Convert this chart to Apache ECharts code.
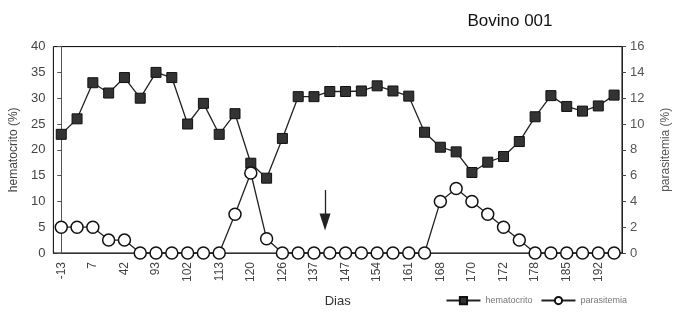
<!DOCTYPE html>
<html>
<head>
<meta charset="utf-8">
<script src="https://cdn.jsdelivr.net/npm/echarts@6/dist/echarts.min.js"></script>
<style>
  html, body { margin: 0; padding: 0; background: #fff; }
  #chart { width: 680px; height: 314px; }
</style>
</head>
<body>
<div id="chart"></div>
<script>
// x labels shown on every other point
let dias = ['-13', '', '7', '', '42', '', '93', '', '102', '', '113', '', '120', '', '126', '', '137', '',
  '147', '', '154', '', '161', '', '168', '', '170', '', '172', '', '178', '', '185', '', '192', ''];

let hematocrito = [23, 26, 33, 31, 34, 30, 35, 34, 25, 29, 23, 27, 17.4, 14.5, 22.2, 30.3, 30.3, 31.3,
  31.3, 31.4, 32.4, 31.4, 30.4, 23.4, 20.5, 19.6, 15.6, 17.6, 18.7, 21.6, 26.4, 30.5, 28.4, 27.5, 28.5, 30.6];

let parasitemia = [2, 2, 2, 1, 1, 0, 0, 0, 0, 0, 0, 3, 6.2, 1.1, 0, 0, 0, 0,
  0, 0, 0, 0, 0, 0, 4, 5, 4, 3, 2, 1, 0, 0, 0, 0, 0, 0];

// arrow marker (treatment): point index on x, from / to on hematocrito scale
let arrowX = 16.7;
let arrowFrom = 12.2;
let arrowTo = 6;

let labelColor = '#444';

let chart = echarts.init(document.getElementById('chart'));
let option = {
  animation: false,
  title: {
    text: 'Bovino 001',
    left: 505,
    top: 8,
    textAlign: 'center',
    textStyle: {fontFamily: 'Liberation Sans', fontSize: 17, fontWeight: 'normal', color: '#111'}
  },
  legend: {
    right: 48,
    top: 291,
    itemWidth: 34,
    itemHeight: 9,
    itemGap: 8,
    textStyle: {fontFamily: 'Liberation Sans', fontSize: 9, color: '#777'},
    data: ['hematocrito', 'parasitemia']
  },
  grid: {
    left: 53, right: 58, top: 46.6, bottom: 61,
    show: true, borderColor: '#000', borderWidth: 1
  },
  xAxis: [
    {
      type: 'category',
      data: dias,
      boundaryGap: true,
      name: 'Dias',
      nameLocation: 'middle',
      nameGap: 42,
      nameTextStyle: {fontFamily: 'Liberation Sans', fontSize: 13, color: '#333'},
      axisLine: {lineStyle: {color: '#333'}},
      axisTick: {interval: 0, length: 4, lineStyle: {color: '#333'}},
      axisLabel: {
        interval: 0, rotate: 90, margin: 9,
        fontFamily: 'Liberation Sans', fontSize: 12, color: labelColor
      }
    },
    {
      // hidden helper axis so the arrow can sit between two days
      type: 'value',
      min: -0.5, max: dias.length - 0.5,
      show: false
    }
  ],
  yAxis: [
    {
      type: 'value',
      min: 0, max: 40, interval: 5,
      name: 'hematocrito (%)',
      nameLocation: 'middle',
      nameRotate: 90,
      nameGap: 30,
      nameTextStyle: {fontFamily: 'Liberation Sans', fontSize: 12, color: '#444'},
      splitLine: {show: false},
      axisLine: {show: true, lineStyle: {color: '#555'}},
      axisTick: {show: true, length: 4, lineStyle: {color: '#555'}},
      axisLabel: {margin: 8, fontFamily: 'Liberation Sans', fontSize: 13, color: labelColor}
    },
    {
      type: 'value',
      min: 0, max: 16, interval: 2,
      name: 'parasitemia (%)',
      nameLocation: 'middle',
      nameRotate: 90,
      nameGap: 38,
      nameTextStyle: {fontFamily: 'Liberation Sans', fontSize: 12, color: '#555'},
      splitLine: {show: false},
      axisLine: {show: true, lineStyle: {color: '#222'}},
      axisTick: {show: true, length: 4, lineStyle: {color: '#444'}},
      axisLabel: {margin: 8, fontFamily: 'Liberation Sans', fontSize: 13, color: '#555'}
    }
  ],
  series: [
    {
      name: 'hematocrito',
      type: 'line',
      yAxisIndex: 0,
      data: hematocrito,
      symbol: 'rect',
      symbolSize: 10,
      itemStyle: {color: '#333', borderColor: '#111', borderWidth: 1},
      lineStyle: {color: '#222', width: 1.3},
      z: 3
    },
    {
      name: 'parasitemia',
      type: 'line',
      yAxisIndex: 1,
      data: parasitemia,
      symbol: 'circle',
      symbolSize: 12,
      showAllSymbol: true,
      itemStyle: {color: '#fff', borderColor: '#111', borderWidth: 1.5},
      lineStyle: {color: '#222', width: 1.3},
      z: 4
    },
    {
      name: 'arrow',
      type: 'line',
      xAxisIndex: 1,
      yAxisIndex: 0,
      data: [],
      markLine: {
        silent: true,
        symbol: ['none', 'triangle'],
        symbolSize: [11, 17],
        label: {show: false},
        lineStyle: {color: '#222', width: 1.3, type: 'solid'},
        data: [[
          {coord: [arrowX, arrowFrom]},
          {coord: [arrowX, arrowTo]}
        ]]
      }
    }
  ]
};
chart.setOption(option);
</script>
</body>
</html>
